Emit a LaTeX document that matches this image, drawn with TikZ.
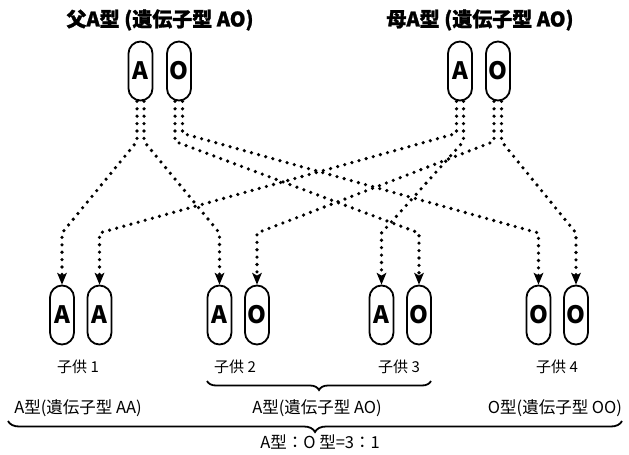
\documentclass[tikz,border=0pt]{standalone}
\usepackage{fontspec}
\setmainfont{Noto Sans CJK JP}
\newfontfamily\heavyjp{Noto Sans CJK JP}[UprightFeatures={FakeBold=1.6},BoldFeatures={FakeBold=1.2}]
\usetikzlibrary{arrows.meta,decorations.pathreplacing}
\tikzset{
  pill/.style={draw, line width=1.8pt, rounded corners=12pt, minimum width=24pt, minimum height=59pt, inner sep=0pt, font=\fontsize{24}{24}\selectfont\bfseries},
  dotline/.style={line width=3.6pt, line cap=round, dash pattern=on 0pt off 7.4pt,
     -{Stealth[length=12pt,width=10pt,inset=3pt,line width=0pt]}},
  title/.style={font=\fontsize{20}{22}\selectfont\heavyjp\bfseries, inner sep=0pt},
  lbl/.style={font=\fontsize{15}{16}\selectfont, inner sep=0pt},
  bottomtxt/.style={font=\fontsize{16.5}{18}\selectfont, inner sep=0pt},
  bracestyle/.style={line width=1.8pt, decorate, decoration={brace, amplitude=#1}},
}
\begin{document}
\begin{tikzpicture}[x=1pt,y=-1pt]
\useasboundingbox (0,0) rectangle (629,455);
% titles
\node[title] (tf) at (160,20) {父A型 (遺伝子型 AO)};
\node[title] (tm) at (480,20) {母A型 (遺伝子型 AO)};
% parent pills
\node[pill] (fA) at (140.5,71) {A};
\node[pill] (fO) at (179,71) {O};
\node[pill] (mA) at (460,71) {A};
\node[pill] (mO) at (498,71) {O};
% children pills
\node[pill] (c1a) at (62,315) {A};
\node[pill] (c1b) at (99.5,315) {A};
\node[pill] (c2a) at (219.5,315) {A};
\node[pill] (c2b) at (257,315) {O};
\node[pill] (c3a) at (381.5,315) {A};
\node[pill] (c3b) at (419,315) {O};
\node[pill] (c4a) at (538.5,315) {O};
\node[pill] (c4b) at (576,315) {O};
% labels
\node[lbl] (l1) at (78,367) {子供 1};
\node[lbl] (l2) at (235,367) {子供 2};
\node[lbl] (l3) at (399,367) {子供 3};
\node[lbl] (l4) at (557,367) {子供 4};
\coordinate (row) at (0,233);
% connectors
\draw[dotline] ([xshift=-3.5pt]fA.south) -- ++(0,40) -- (c1a.north |- row) -- (c1a.north);
\draw[dotline] ([xshift=3.5pt]fA.south) -- ++(0,40) -- (c2a.north |- row) -- (c2a.north);
\draw[dotline] ([xshift=-4pt]fO.south) -- ++(0,40) -- (c3b.north |- row) -- (c3b.north);
\draw[dotline] ([xshift=3.5pt]fO.south) -- ++(0,32) -- (c4a.north |- row) -- (c4a.north);
\draw[dotline] ([xshift=-3.5pt]mA.south) -- ++(0,32) -- (c1b.north |- row) -- (c1b.north);
\draw[dotline] ([xshift=3.5pt]mA.south) -- ++(0,40) -- (c3a.north |- row) -- (c3a.north);
\draw[dotline] ([xshift=-4pt]mO.south) -- ++(0,40) -- (c2b.north |- row) -- (c2b.north);
\draw[dotline] ([xshift=3.5pt]mO.south) -- ++(0,40) -- (c4b.north |- row) -- (c4b.north);
% braces
\coordinate (b1r) at (431,381);
\coordinate (b1l) at (207,381);
\draw[bracestyle=9pt] (b1r) -- (b1l);
\coordinate (b2r) at (622,421);
\coordinate (b2l) at (8,421);
\draw[bracestyle=11pt] (b2r) -- (b2l);
% bottom texts
\node[bottomtxt] (g1) at (78,408) {A型(遺伝子型 AA)};
\node[bottomtxt] (g2) at (317,408) {A型(遺伝子型 AO)};
\node[bottomtxt] (g3) at (555,408) {O型(遺伝子型 OO)};
\node[bottomtxt] (ratio) at (320,442) {A型：O 型=3：1};
\end{tikzpicture}
\end{document}
